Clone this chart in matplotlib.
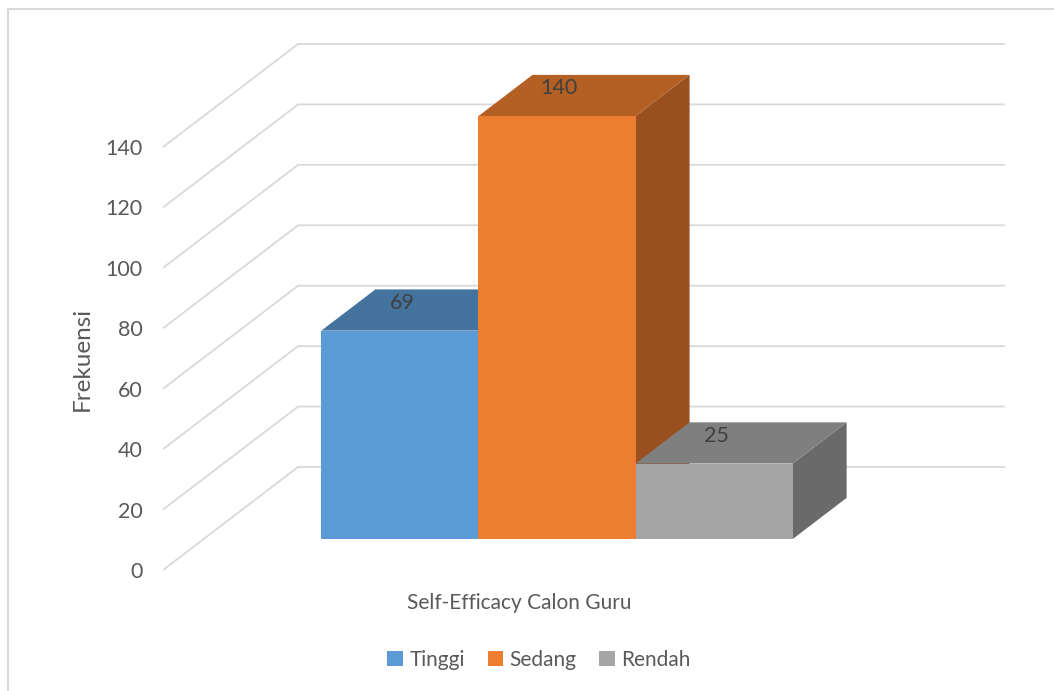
import matplotlib
matplotlib.use('Agg')
import matplotlib.pyplot as plt
from matplotlib.patches import Polygon, Rectangle

plt.rcParams['font.family'] = ['Lato', 'DejaVu Sans']

# data
series = ['Tinggi', 'Sedang', 'Rendah']
values = [69, 140, 25]
yticks = [0, 20, 40, 60, 80, 100, 120, 140]
category = 'Self-Efficacy Calon Guru'
y_title = 'Frekuensi'

front_colors = ['#5B9BD5', '#ED7D31', '#A5A5A5']
top_colors = ['#44739E', '#B45F24', '#7F7F7F']
side_colors = ['#3A6590', '#9A501E', '#6A6A6A']
text_gray = '#595959'
grid_gray = '#D9D9D9'

# oblique "3D" projection: x in bar widths, v in value units, f = depth 0..1
GAP = 1.5
W = len(series) + GAP
DX = 0.86
DY = 34.1
F0, F1 = 0.3, 0.7


def proj(x, v, f):
    return (x + f * DX, v + f * DY)


fig = plt.figure(figsize=(10.54, 6.91), dpi=100)
ax = fig.add_axes([163 / 1054, 121 / 691, 842 / 1054, 526 / 691])
ax.set_xlim(0, W + DX)
ax.set_ylim(0, yticks[-1] + DY)

# side wall + back wall gridlines
for v in yticks:
    pts = [proj(0, v, 0), proj(0, v, 1), proj(W, v, 1)]
    ax.plot([p[0] for p in pts], [p[1] for p in pts], color=grid_gray,
            lw=1.3, zorder=1, clip_on=False, solid_capstyle='butt')

# bars, left to right so later fronts hide earlier sides
for i, v in enumerate(values):
    x0 = GAP / 2 + i
    x1 = x0 + 1
    side = [proj(x1, 0, F0), proj(x1, 0, F1), proj(x1, v, F1), proj(x1, v, F0)]
    top = [proj(x0, v, F0), proj(x1, v, F0), proj(x1, v, F1), proj(x0, v, F1)]
    front = [proj(x0, 0, F0), proj(x1, 0, F0), proj(x1, v, F0), proj(x0, v, F0)]
    ax.add_patch(Polygon(side, closed=True, fc=side_colors[i], ec='none', zorder=2 + i))
    ax.add_patch(Polygon(top, closed=True, fc=top_colors[i], ec='none', zorder=2 + i))
    ax.add_patch(Polygon(front, closed=True, fc=front_colors[i], ec='none', zorder=2 + i))
    ax.annotate(str(v), xy=proj(x0 + 0.5, v, F0), xytext=(2, 28),
                textcoords='offset pixels', ha='center', va='center',
                fontsize=15.5, color='#404040', zorder=10)

ax.set_yticks(yticks)
ax.set_xticks([])
ax.tick_params(axis='y', length=0, pad=14.5, labelsize=15.5, labelcolor=text_gray)
for s in ax.spines.values():
    s.set_visible(False)
ax.patch.set_alpha(0)

fig.text(82 / 1054, 1 - 359 / 691, y_title, rotation=90, ha='center', va='center',
         fontsize=17.5, color=text_gray)
fig.text(519 / 1054, 1 - 603 / 691, category, ha='center', va='center',
         fontsize=15, color=text_gray)

handles = [Rectangle((0, 0), 1, 1, fc=c, ec='none') for c in front_colors]
fig.legend(handles, series, loc='center', bbox_to_anchor=(539 / 1054, 1 - 660 / 691),
           ncol=3, frameon=False, handlelength=0.75, handleheight=0.75,
           columnspacing=1.1, handletextpad=0.3, fontsize=15, labelcolor=text_gray)

# chart area border (right/bottom edges are cropped in the original)
fig.patches.append(Rectangle((7.5 / 1054, -0.05), 1.1, 1 - 9 / 691 + 0.05,
                             transform=fig.transFigure, fill=False,
                             ec=grid_gray, lw=1.5))

fig.savefig('out.png', dpi=100)
